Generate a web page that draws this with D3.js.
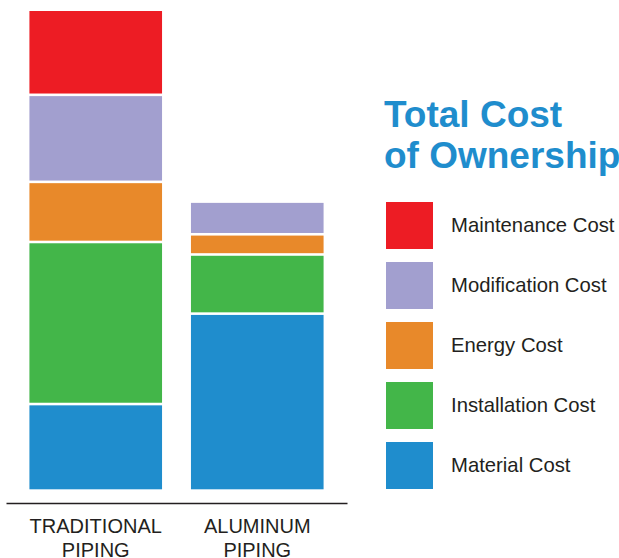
<!DOCTYPE html>
<html>
<head>
<meta charset="utf-8">
<script src="https://cdn.jsdelivr.net/npm/d3@7"></script>
<style>
  html, body { margin: 0; padding: 0; background: #fff; }
  svg { display: block; font-family: "Liberation Sans", Arial, sans-serif; }
</style>
</head>
<body>
<svg id="chart" width="619" height="558"></svg>
<script>
const categories = ["TRADITIONAL PIPING", "ALUMINUM PIPING"];
const seriesNames = ["Material Cost", "Installation Cost", "Energy Cost", "Modification Cost", "Maintenance Cost"];
const materialCost     = [18.0, 36.8];
const installationCost = [33.7, 12.3];
const energyCost       = [12.5, 4.2];
const modificationCost = [18.1, 6.8];
const maintenanceCost  = [17.7, 0];
const colors = ["#1f8dcd", "#43b649", "#e8892a", "#a29fcf", "#ed1c24"];
const titleLines = ["Total Cost", "of Ownership"];

const seriesValues = [materialCost, installationCost, energyCost, modificationCost, maintenanceCost];
const table = categories.map((c, i) => {
  const row = { cat: c };
  seriesNames.forEach((s, j) => row[s] = seriesValues[j][i]);
  return row;
});
const stacked = d3.stack().keys(seriesNames)(table);

const svg = d3.select("#chart");
const x = d3.scaleBand().domain(categories).range([6, 347]).paddingInner(0.179).paddingOuter(0.145);
const y = d3.scaleLinear().domain([0, 100]).range([490.6, 9.7]);
const color = d3.scaleOrdinal().domain(seriesNames).range(colors);
const gap = 1.3;

svg.append("g").selectAll("g").data(stacked).join("g")
  .attr("fill", d => color(d.key))
  .selectAll("rect").data(d => d.filter(p => p[1] - p[0] > 0)).join("rect")
  .attr("x", d => x(d.data.cat))
  .attr("width", x.bandwidth())
  .attr("y", d => y(d[1]) + gap)
  .attr("height", d => y(d[0]) - y(d[1]) - 2 * gap);

// axis baseline
const axis = svg.append("g").attr("transform", "translate(0,503)")
  .call(d3.axisBottom(x).tickSize(0).tickSizeOuter(0).tickFormat(""));
axis.select(".domain").attr("stroke", "#231f20").attr("stroke-width", 1.4);
axis.selectAll(".tick").each(function(d) {
  const parts = d.split(" ");
  const t = d3.select(this).append("text")
    .attr("text-anchor", "middle")
    .attr("fill", "#231f20")
    .attr("font-size", 20)
    .attr("font-family", "'Liberation Sans', Arial, sans-serif");
  parts.forEach((p, i) => t.append("tspan").attr("x", 0).attr("y", 30 + i * 23.5).text(p));
});

// title
svg.append("g").selectAll("text").data(titleLines).join("text")
  .attr("x", 384)
  .attr("y", (d, i) => 127 + i * 41)
  .attr("fill", "#1f8dcd")
  .attr("font-size", 37)
  .attr("font-weight", "bold")
  .text(d => d);

// legend
const legendOrder = seriesNames.slice().reverse();
const lg = svg.append("g").selectAll("g").data(legendOrder).join("g")
  .attr("transform", (d, i) => `translate(386,${202 + i * 60})`);
lg.append("rect").attr("width", 47).attr("height", 47).attr("fill", d => color(d));
lg.append("text").attr("x", 65).attr("y", 29.5).attr("font-size", 20.3).attr("fill", "#231f20").text(d => d);
</script>
</body>
</html>
